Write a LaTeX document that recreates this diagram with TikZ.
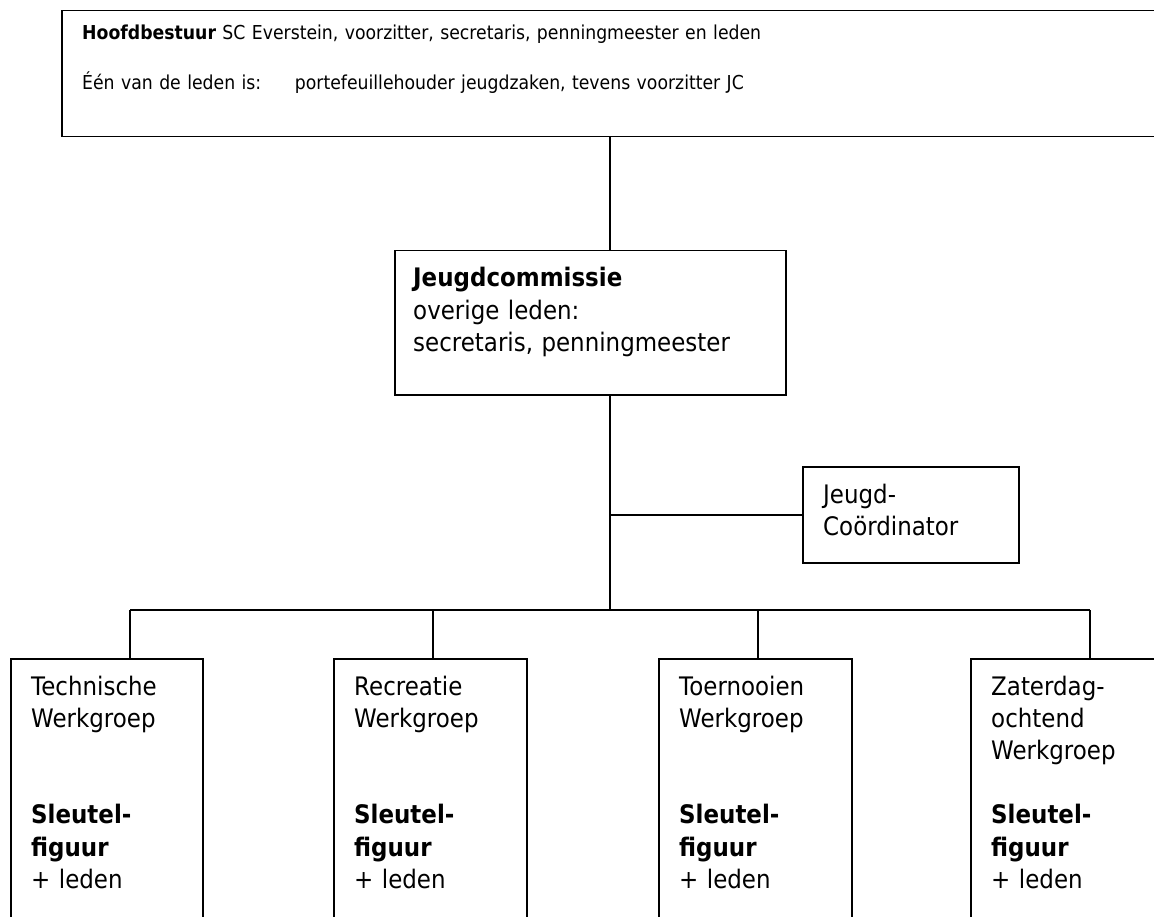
\documentclass[tikz,border=0pt]{standalone}
\usepackage{fontspec}
\setmainfont{DejaVu Sans}[FakeStretch=0.9]
\begin{document}
\begin{tikzpicture}[x=1pt,y=-1pt,
  box/.style={draw, line width=1.5pt, rectangle, inner sep=0pt, anchor=north west},
  txt/.style={anchor=base west, inner sep=0pt, align=left, text width=#1,
    font=\fontsize{25.5}{32.2}\selectfont},
  toptxt/.style={anchor=base west, inner sep=0pt, align=left, text width=1050pt,
    font=\fontsize{19.2}{50}\selectfont},
  conn/.style={line width=1.5pt}]
\useasboundingbox (0,0) rectangle (1154,917);
\fill[white] (0,0) rectangle (1154,917);

% boxes
\node[box, minimum width=1110pt, minimum height=126pt] (hb) at (61,10) {};
\node[box, minimum width=391pt, minimum height=144pt] (jc) at (394,250) {};
\node[box, minimum width=216pt, minimum height=96pt] (co) at (802,466) {};
\node[box, minimum width=192pt, minimum height=300pt] (tw) at (10,658) {};
\node[box, minimum width=193pt, minimum height=300pt] (rw) at (333,658) {};
\node[box, minimum width=193pt, minimum height=300pt] (tow) at (658,658) {};
\node[box, minimum width=193pt, minimum height=300pt] (zw) at (970,658) {};

% texts
\node[toptxt] (hbt) at (82,40) {\textbf{Hoofdbestuur} SC Everstein, voorzitter, secretaris, penningmeester en leden\\
Één van de leden is:\hspace{1.75em}portefeuillehouder jeugdzaken, tevens voorzitter JC};
\node[txt=370pt] (jct) at (413,287) {\textbf{Jeugdcommissie}\\overige leden:\\secretaris, penningmeester};
\node[txt=190pt] (cot) at (823,503) {Jeugd-\\Coördinator};
\node[txt=180pt] (twt) at (31,695) {Technische\\Werkgroep\\\mbox{}\\\mbox{}\\\textbf{Sleutel-}\\\textbf{figuur}\\+ leden};
\node[txt=180pt] (rwt) at (354,695) {Recreatie\\Werkgroep\\\mbox{}\\\mbox{}\\\textbf{Sleutel-}\\\textbf{figuur}\\+ leden};
\node[txt=180pt] (towt) at (679,695) {Toernooien\\Werkgroep\\\mbox{}\\\mbox{}\\\textbf{Sleutel-}\\\textbf{figuur}\\+ leden};
\node[txt=180pt] (zwt) at (991,695) {Zaterdag-\\ochtend\\Werkgroep\\\mbox{}\\\textbf{Sleutel-}\\\textbf{figuur}\\+ leden};

% connectors
\coordinate (spine) at (610,0);
\coordinate (bus) at (610,610);
\coordinate (d1) at (130,610);
\coordinate (d2) at (433,610);
\coordinate (d3) at (758,610);
\coordinate (d4) at (1090,610);
\draw[conn] (hb.south -| spine) -- (jc.north -| spine);
\draw[conn] (jc.south -| spine) -- (bus);
\draw[conn] (co.west -| spine) -- (co.west);
\draw[conn] (d1) -- (d4);
\draw[conn] (d1) -- (tw.north -| d1);
\draw[conn] (d2) -- (rw.north -| d2);
\draw[conn] (d3) -- (tow.north -| d3);
\draw[conn] (d4) -- (zw.north -| d4);
\end{tikzpicture}
\end{document}
